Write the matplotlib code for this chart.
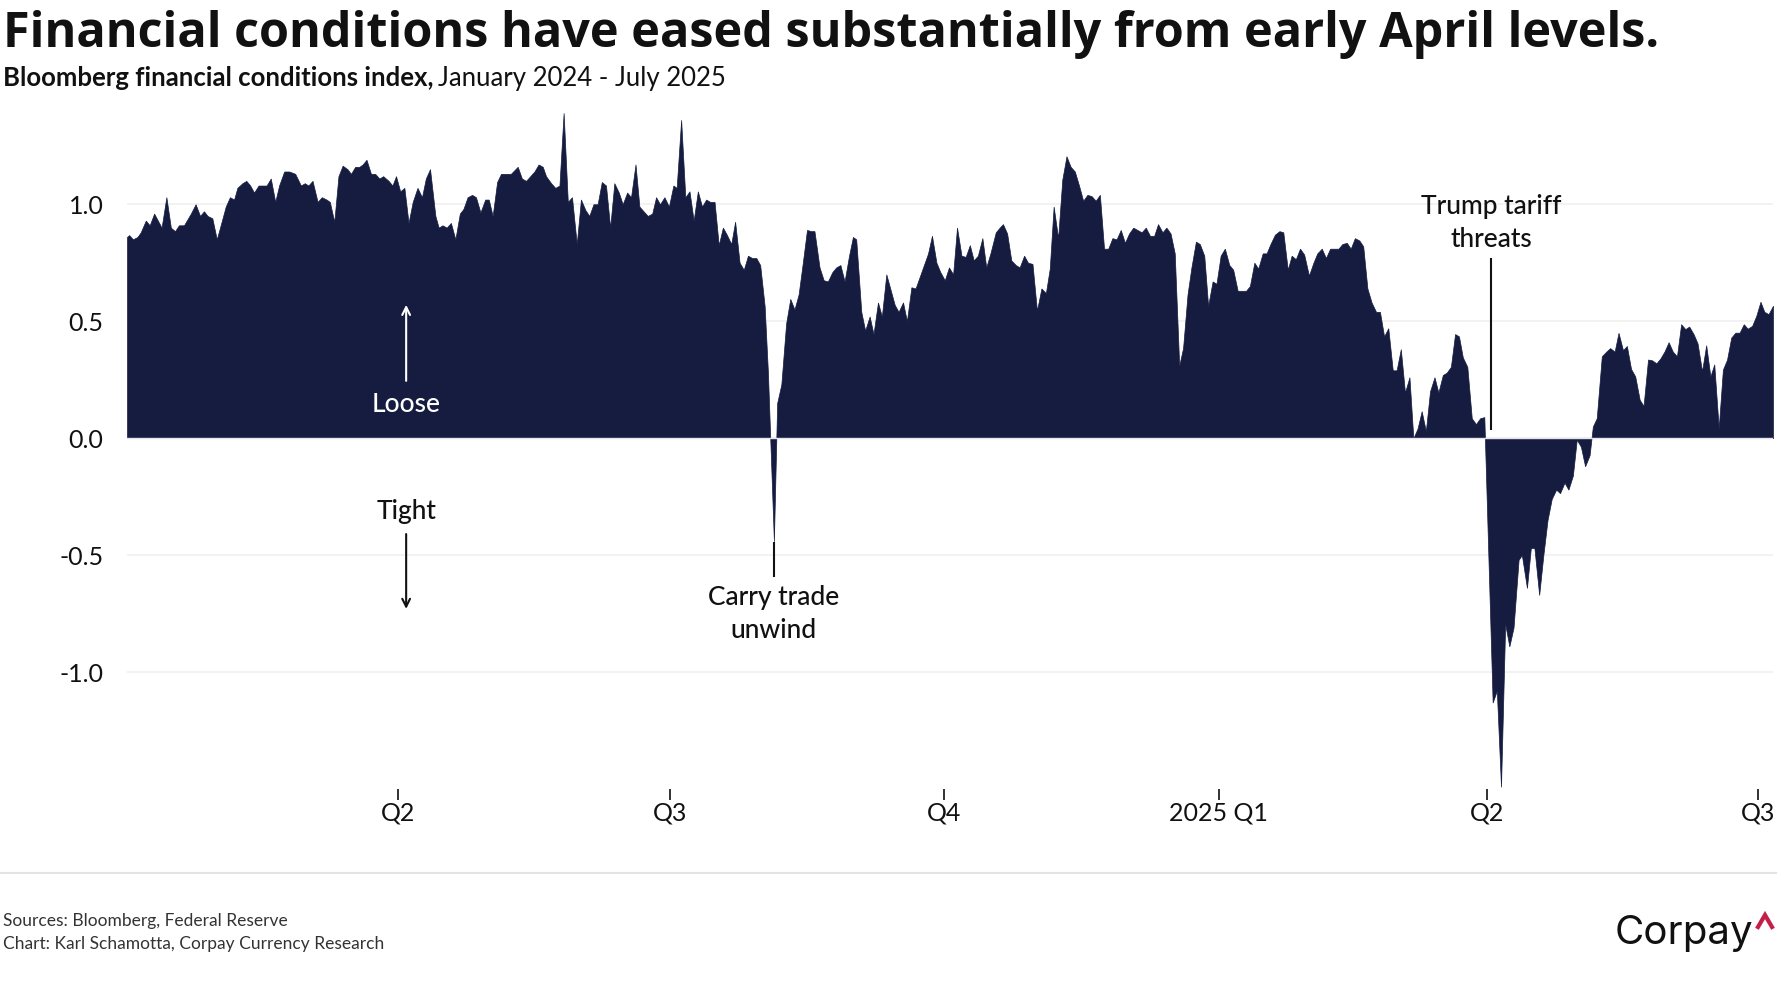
import numpy as np
import pandas as pd
import matplotlib
matplotlib.use('Agg')
import matplotlib.pyplot as plt
from matplotlib.lines import Line2D

plt.rcParams['font.family'] = ['Lato', 'DejaVu Sans']

# Bloomberg FCI (days after 2024-01-01)
day = [0, 0.7, 2.0, 3.5, 4.6, 6.3, 7.6, 9.1, 11.6, 13.2, 14.7, 16.1, 17.4, 19.1, 21.4, 23.0,
       24.5, 25.8, 27.0, 28.6, 30.1, 31.4, 33.1, 34.5, 35.9, 37.0, 38.7, 40.0, 41.3, 42.6, 44.1,
       45.4, 46.8, 48.2, 49.7, 51.0, 52.7, 54.4, 56.4, 58.3, 59.6, 60.8, 62.2, 63.9, 65.3, 66.9,
       68.0, 69.5, 70.9, 72.3, 73.9, 75.1, 76.5, 77.9, 79.0, 80.3, 81.8, 83.2, 84.6, 85.9, 87.7,
       89.0, 90.2, 91.6, 93.0, 94.4, 95.8, 97.4, 98.9, 100.2, 101.6, 103.4, 104.5, 105.8, 107.2,
       108.6, 110.1, 111.6, 112.8, 114.2, 115.7, 117.0, 118.5, 120.1, 121.3, 122.6, 124.1, 125.4,
       127.1, 128.7, 131.0, 132.4, 133.8, 135.2, 136.6, 138.0, 139.4, 140.5, 142.2, 143.6, 145.0,
       146.4, 147.8, 149.2, 150.8, 152.2, 153.7, 155.0, 156.4, 157.8, 159.2, 160.6, 162.0, 163.4,
       164.9, 166.2, 167.7, 169.0, 170.5, 171.8, 173.2, 174.6, 176.1, 177.4, 178.7, 180.2, 181.7,
       183.2, 184.3, 185.8, 187.2, 188.6, 190.0, 191.4, 192.8, 194.2, 195.5, 197.0, 198.4, 199.8,
       201.1, 202.6, 203.9, 205.4, 206.8, 208.2, 209.6, 211.0, 212.3, 213.8, 214.9, 216.9, 218.0,
       219.4, 221.0, 222.4, 223.8, 225.2, 226.6, 228.0, 229.4, 230.5, 232.2, 233.6, 235.0, 236.5,
       237.8, 239.2, 240.6, 242.1, 243.4, 244.5, 246.2, 247.5, 249.0, 250.3, 251.8, 253.1, 254.6,
       255.9, 257.4, 258.7, 260.2, 261.5, 263.0, 264.4, 265.8, 267.2, 268.6, 269.9, 271.4, 272.7,
       274.2, 275.6, 277.0, 278.3, 279.8, 281.2, 282.6, 283.9, 285.3, 286.8, 288.1, 289.5, 291.3,
       292.6, 293.7, 295.1, 296.5, 298.0, 299.3, 300.8, 302.1, 303.6, 305.1, 306.6, 308.1, 309.4,
       310.7, 312.2, 313.6, 315.0, 316.4, 317.8, 319.2, 320.6, 322.0, 323.4, 324.8, 326.2, 327.6,
       329.0, 330.4, 331.8, 333.2, 334.6, 336.0, 337.4, 338.8, 340.2, 341.6, 343.0, 344.4, 345.7,
       347.2, 348.5, 349.9, 351.3, 352.8, 354.1, 355.6, 356.9, 358.4, 359.7, 361.2, 362.5, 364.0,
       365.3, 366.7, 368.1, 369.6, 370.9, 372.4, 373.7, 375.2, 376.5, 378.0, 379.3, 380.8, 382.1,
       383.4, 384.9, 386.4, 387.7, 389.2, 390.5, 391.9, 393.3, 394.7, 396.3, 397.8, 399.1, 400.6,
       402.0, 403.4, 404.8, 406.2, 407.5, 409.0, 410.3, 411.7, 413.2, 414.5, 415.9, 417.3, 418.8,
       420.1, 421.5, 422.9, 424.4, 425.7, 427.1, 428.5, 430.0, 431.3, 432.7, 434.1, 435.5, 436.9,
       438.4, 439.7, 441.2, 442.5, 443.9, 445.3, 446.6, 447.9, 449.4, 450.9, 452.3, 453.7, 455.1,
       457.9, 459.3, 460.7, 462.1, 463.5, 464.9, 466.6, 467.7, 469.4, 470.7, 471.9, 473.5, 474.9,
       476.3, 477.7, 479.2, 480.5, 482.0, 483.3, 484.8, 486.1, 487.5, 488.9, 490.4, 491.5, 492.8,
       494.5, 496.0, 497.3, 498.8, 500.1, 501.6, 502.9, 504.3, 505.7, 507.2, 508.5, 510.0, 511.3,
       512.8, 514.1, 515.5, 516.9, 518.3, 519.7, 521.1, 522.5, 523.8, 525.3, 526.6, 528.1, 529.5,
       530.9, 532.2, 533.7, 535.1, 536.5, 537.9, 539.3, 540.7, 542.1, 543.4, 544.9, 546.3, 547.7,
       549.0, 550.4, 551.9]
fci = [0.86, 0.868, 0.85, 0.86, 0.88, 0.93, 0.91, 0.96, 0.90, 1.03, 0.90, 0.885, 0.91, 0.91, 0.96, 1.00,
       0.95, 0.97, 0.95, 0.94, 0.85, 0.91, 0.99, 1.03, 1.02, 1.07, 1.09, 1.10, 1.08, 1.05, 1.08,
       1.08, 1.08, 1.11, 1.01, 1.08, 1.14, 1.14, 1.13, 1.08, 1.09, 1.08, 1.10, 1.01, 1.03, 1.02,
       1.01, 0.925, 1.12, 1.165, 1.15, 1.13, 1.16, 1.16, 1.17, 1.19, 1.13, 1.13, 1.11, 1.12, 1.10,
       1.08, 1.12, 1.055, 1.07, 0.92, 1.01, 1.07, 1.03, 1.11, 1.15, 0.95, 0.90, 0.91, 0.90,
       0.92, 0.85, 0.96, 0.98, 1.03, 1.04, 1.03, 0.965, 1.02, 1.02, 0.95, 1.095, 1.13,
       1.13, 1.13, 1.16, 1.11, 1.10, 1.12, 1.14, 1.17, 1.16, 1.12, 1.09, 1.07, 1.08,
       1.39, 1.01, 1.03, 0.83, 1.02, 0.975, 0.95, 1.00, 1.00, 1.095, 1.08, 0.90, 1.09,
       1.05, 1.00, 1.05, 1.03, 1.17, 0.99, 0.97, 0.95, 0.96, 1.03, 1.00, 1.03, 0.99,
       1.08, 1.07, 1.36, 1.03, 1.055, 0.93, 1.055, 0.99, 1.02, 1.01, 1.01, 0.825, 0.90,
       0.87, 0.83, 0.925, 0.75, 0.72, 0.78, 0.77, 0.77, 0.74, 0.565, 0.28, -0.44, 0.15,
       0.23, 0.49, 0.595, 0.55, 0.615, 0.75, 0.89, 0.885, 0.885, 0.73, 0.675, 0.67, 0.71,
       0.73, 0.74, 0.67, 0.78, 0.86, 0.85, 0.54, 0.46, 0.52, 0.445, 0.58, 0.52, 0.70,
       0.64, 0.57, 0.54, 0.58, 0.50, 0.645, 0.64, 0.69, 0.74, 0.79, 0.865, 0.75, 0.71,
       0.675, 0.73, 0.70, 0.90, 0.78, 0.775, 0.825, 0.76, 0.78, 0.855, 0.73, 0.79, 0.88,
       0.90, 0.915, 0.875, 0.76, 0.74, 0.73, 0.78, 0.75, 0.745, 0.545, 0.64, 0.62, 0.725,
       0.99, 0.855, 1.105, 1.205, 1.16, 1.14, 1.08, 1.015, 1.04, 1.035, 1.015, 1.04, 0.81,
       0.81, 0.855, 0.85, 0.89, 0.835, 0.875, 0.90, 0.89, 0.88, 0.90, 0.865, 0.865, 0.915,
       0.88, 0.90, 0.875, 0.79, 0.31, 0.385, 0.615, 0.73, 0.84, 0.83, 0.78, 0.565, 0.67,
       0.66, 0.78, 0.81, 0.74, 0.72, 0.63, 0.63, 0.63, 0.65, 0.75, 0.725, 0.79, 0.79,
       0.83, 0.87, 0.885, 0.88, 0.72, 0.78, 0.765, 0.81, 0.785, 0.695, 0.75, 0.79, 0.81,
       0.77, 0.81, 0.81, 0.81, 0.83, 0.835, 0.81, 0.855, 0.845, 0.82, 0.64, 0.58, 0.54,
       0.54, 0.435, 0.47, 0.29, 0.29, 0.38, 0.195, 0.26, 0.0, 0.04, 0.115, 0.03, 0.20,
       0.26, 0.195, 0.27, 0.28, 0.305, 0.445, 0.435, 0.345, 0.305, 0.085, 0.06, 0.085, 0.09,
       -1.13, -1.08, -1.49, -0.795, -0.89, -0.81, -0.52, -0.50, -0.64, -0.47, -0.47, -0.67, -0.50,
       -0.35, -0.26, -0.22, -0.235, -0.19, -0.22, -0.16, -0.006, -0.037, -0.12, -0.073, 0.05, 0.085,
       0.35, 0.37, 0.385, 0.37, 0.45, 0.376, 0.394, 0.296, 0.264, 0.164, 0.138, 0.336, 0.333,
       0.32, 0.34, 0.37, 0.41, 0.37, 0.35, 0.487, 0.466, 0.477, 0.444, 0.405, 0.286, 0.397,
       0.264, 0.315, 0.042, 0.293, 0.336, 0.43, 0.451, 0.451, 0.487, 0.468, 0.48, 0.523, 0.583,
       0.54, 0.53, 0.566]

tick_dates = ['2024-04-01', '2024-07-01', '2024-10-01', '2025-01-01', '2025-04-01', '2025-07-01']
tick_labels = ['Q2', 'Q3', 'Q4', '2025 Q1', 'Q2', 'Q3']
y_ticks = [-1.0, -0.5, 0.0, 0.5, 1.0]
y_labels = ['-1.0', '-0.5', '0.0', '0.5', '1.0']

start = pd.Timestamp('2024-01-01')
dates = start + pd.to_timedelta(day, unit='D')

navy = '#151c40'
ink = '#111111'

fig = plt.figure(figsize=(17.88, 10), dpi=100)
ax = fig.add_axes([127 / 1788, 0.211, (1773 - 127) / 1788, 0.690])

ax.fill_between(dates, fci, 0, color=navy, lw=0.5, edgecolor=navy, zorder=2)
ax.axhline(0, color='#e4e4ea', lw=1.0, zorder=3)

ax.set_xlim(dates[0], dates[-1])
ax.set_ylim(-1.5, 1.45)
ax.set_yticks(y_ticks)
ax.set_yticklabels(y_labels)
ax.set_xticks(pd.to_datetime(tick_dates))
ax.set_xticklabels(tick_labels)
ax.yaxis.grid(True, color='#f0f0f0', lw=1.2, zorder=0)
ax.set_axisbelow(True)
for s in ax.spines.values():
    s.set_visible(False)
ax.tick_params(axis='y', length=0, pad=17, labelsize=18, labelcolor=ink)
ax.tick_params(axis='x', length=8, width=1.3, color='#222222', pad=1, labelsize=18, labelcolor=ink)

# annotations
d = lambda n: start + pd.Timedelta(days=n)
ann = dict(fontsize=19, weight='medium', ha='center', va='center')
ax.annotate('', xy=(d(93.6), 0.57), xytext=(d(93.6), 0.245),
            arrowprops=dict(arrowstyle='->', color='white', lw=1.5, shrinkA=0, shrinkB=0,
                            mutation_scale=14), zorder=5)
ax.text(d(93.6), 0.145, 'Loose', color='white', zorder=5, **ann)
ax.text(d(93.6), -0.315, 'Tight', color=ink, **ann)
ax.annotate('', xy=(d(93.6), -0.73), xytext=(d(93.6), -0.41),
            arrowprops=dict(arrowstyle='->', color=ink, lw=1.5, shrinkA=0, shrinkB=0,
                            mutation_scale=14))

ax.plot([d(216.9), d(216.9)], [-0.45, -0.59], color=ink, lw=1.5)
ax.text(d(216.9), -0.753, 'Carry trade\nunwind', color=ink, linespacing=1.4, **ann)

ax.plot([d(457.4), d(457.4)], [0.04, 0.765], color=ink, lw=1.5)
ax.text(d(457.4), 0.92, 'Trump tariff\nthreats', color=ink, linespacing=1.4, **ann)

# title and subtitle
fig.text(3 / 1788, 1 - 46.7 / 1000, 'Financial conditions have eased substantially from early April levels.',
         fontsize=35, weight='bold', color=ink, va='baseline', family=['Open Sans', 'DejaVu Sans'])
sub1 = fig.text(3 / 1788, 1 - 86 / 1000, 'Bloomberg financial conditions index,',
                fontsize=18.5, weight='bold', color=ink, va='baseline')
fig.canvas.draw()
bb = sub1.get_window_extent(fig.canvas.get_renderer())
fig.text(bb.x1 / 1788 + 5 / 1788, 1 - 86 / 1000, 'January 2024 - July 2025',
         fontsize=18.5, color=ink, va='baseline')

# footer
fig.add_artist(Line2D([0, 1776 / 1788], [1 - 873 / 1000] * 2, color='#e3e3e3', lw=1.5))
fig.text(3 / 1788, 1 - 926 / 1000, 'Sources: Bloomberg, Federal Reserve', fontsize=12.5,
         color='#333333', va='baseline')
fig.text(3 / 1788, 1 - 949 / 1000, 'Chart: Karl Schamotta, Corpay Currency Research', fontsize=12.5,
         color='#333333', va='baseline')

# logo
fig.text(1615 / 1788, 1 - 944 / 1000, 'Corpay', fontsize=29, color='#111111', va='baseline',
         family=['Inter', 'DejaVu Sans'])
fig.add_artist(Line2D([1758 / 1788, 1765 / 1788, 1772 / 1788],
                      [1 - 927 / 1000, 1 - 915 / 1000, 1 - 927 / 1000],
                      color='#c41e4a', lw=3, solid_joinstyle='miter'))

fig.savefig('out.png', dpi=100)
